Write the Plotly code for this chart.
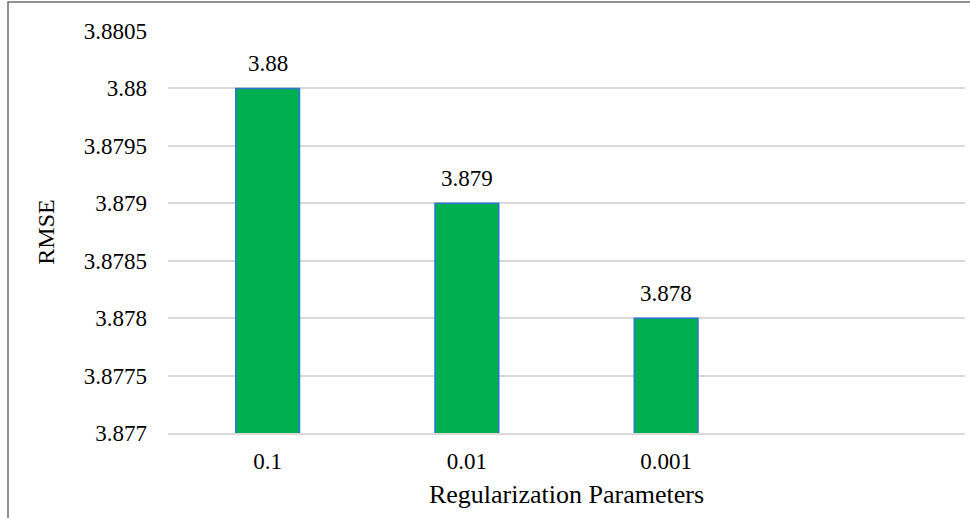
import plotly.graph_objects as go

# RMSE for each regularization parameter
categories = ["0.1", "0.01", "0.001"]
rmse = [3.880, 3.879, 3.878]
labels = ["3.88", "3.879", "3.878"]
y_ticks = [3.877, 3.8775, 3.878, 3.8785, 3.879, 3.8795, 3.88, 3.8805]
y_tick_text = ["3.877", "3.8775", "3.878", "3.8785", "3.879", "3.8795", "3.88", "3.8805"]

font_family = "Liberation Serif"

fig = go.Figure(
    go.Bar(
        x=categories,
        y=rmse,
        cliponaxis=True,
        marker=dict(color="#00B050", line=dict(color="#2E75D6", width=1.5)),
        width=0.32,
        hoverinfo="x+y",
    )
)

# value labels above each bar (category axis: position by index)
for i, (val, lab) in enumerate(zip(rmse, labels)):
    fig.add_annotation(
        x=i, y=val, text=lab, showarrow=False,
        yanchor="bottom", yshift=10,
        font=dict(family=font_family, size=23, color="#000000"),
    )

fig.update_layout(
    width=970,
    height=518,
    margin=dict(l=168, r=5, t=31, b=85),
    paper_bgcolor="white",
    plot_bgcolor="white",
    showlegend=False,
    font=dict(family=font_family, size=23, color="#000000"),
    xaxis=dict(
        type="category",
        range=[-0.5, 3.5],
        showgrid=False,
        showline=True,
        linecolor="#d9d9d9",
        linewidth=1.5,
        ticks="",
        ticklabelstandoff=7,
        title=dict(text="Regularization Parameters", standoff=11,
                   font=dict(family=font_family, size=26)),
        tickfont=dict(family=font_family, size=23),
    ),
    yaxis=dict(
        range=[3.877, 3.8805],
        tickvals=y_ticks,
        ticktext=y_tick_text,
        showgrid=True,
        gridcolor="#d9d9d9",
        gridwidth=1.5,
        zeroline=False,
        showline=False,
        ticks="",
        ticklabelstandoff=20,
        title=dict(text="RMSE", standoff=22,
                   font=dict(family=font_family, size=24)),
        tickfont=dict(family=font_family, size=23),
    ),
    shapes=[
        dict(type="rect", xref="paper", yref="paper",
             x0=(8 - 168) / 797, x1=1.2, y0=-0.4, y1=1 + (31 - 2) / 402,
             line=dict(color="#6e6e6e", width=1.5), fillcolor="rgba(0,0,0,0)",
             layer="below"),
    ],
)

fig.write_html("out.html")
